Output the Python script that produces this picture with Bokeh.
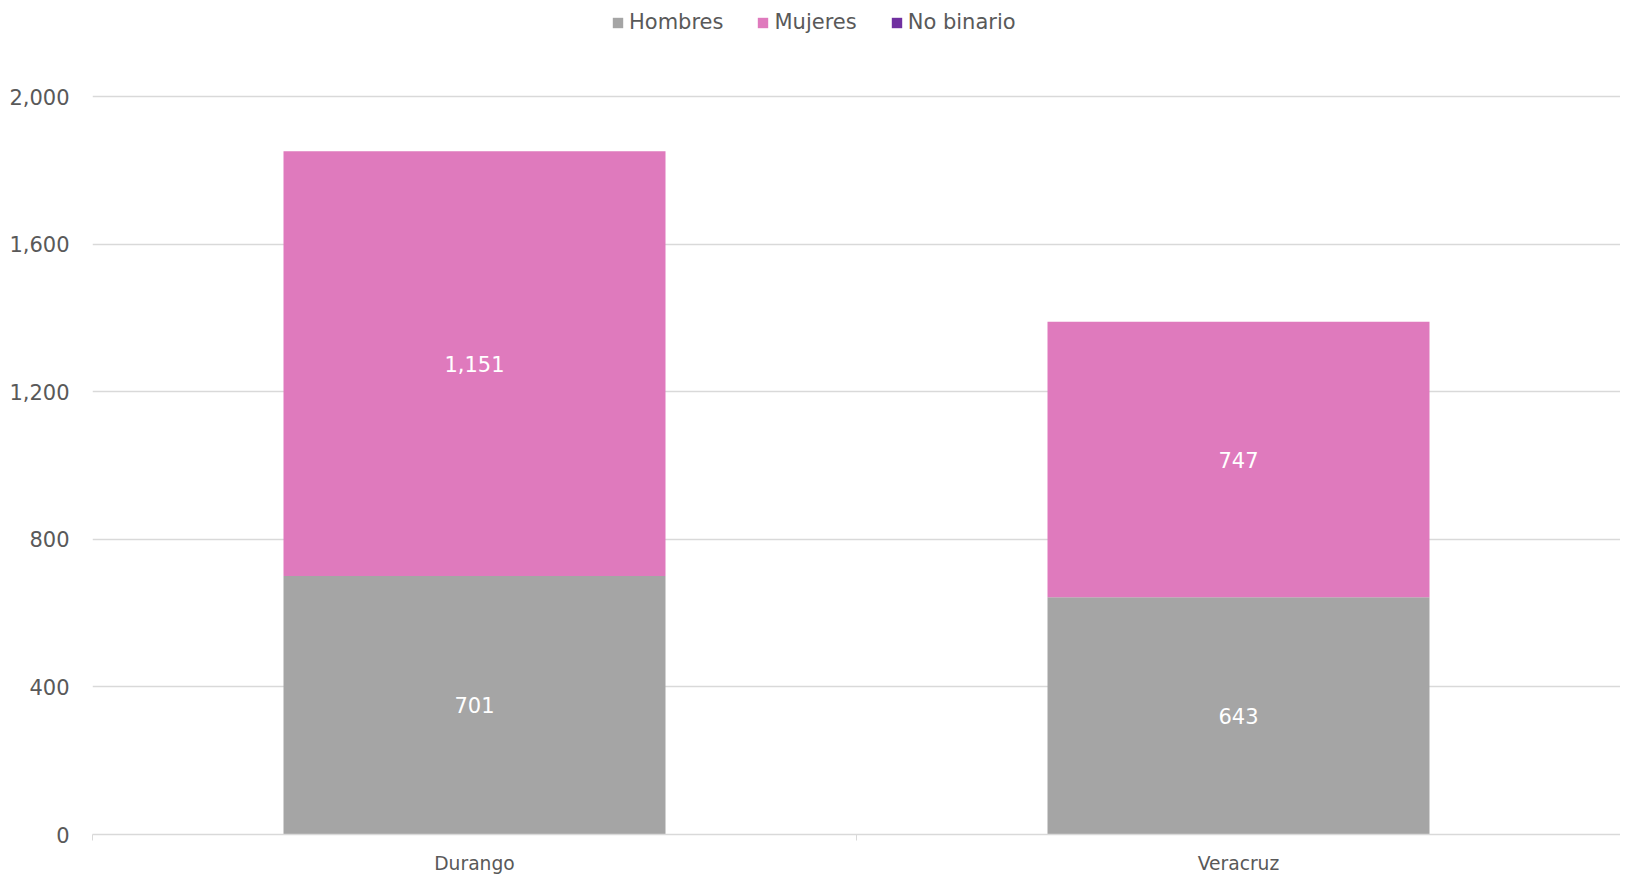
from bokeh.plotting import figure
from bokeh.models import (Range1d, FixedTicker, NumeralTickFormatter, Legend, LegendItem,
                          ColumnDataSource)
from bokeh.core.properties import value
from bokeh.embed import file_html
from bokeh.resources import INLINE
import numpy as np

categories = ["Durango", "Veracruz"]
hombres = [701, 643]
mujeres = [1151, 747]
no_binario = [0, 0]
series = ["Hombres", "Mujeres", "No binario"]
colors = ["#A5A5A5", "#DF7ABD", "#7030A0"]
y_ticks = [0, 400, 800, 1200, 1600, 2000]

FONT = "DejaVu Sans"
TXT = "#595959"

xpos = np.arange(len(categories)) + 0.5
src = ColumnDataSource(dict(x=xpos, Hombres=hombres, Mujeres=mujeres,
                            NoBin=no_binario))

p = figure(width=1620, height=876, output_backend="svg", toolbar_location=None,
           x_range=Range1d(0, len(categories)), y_range=Range1d(0, 2261),
           min_border_left=92, min_border_right=0, min_border_top=0,
           min_border_bottom=35)
p.outline_line_color = None
p.background_fill_color = "white"

rs = p.vbar_stack(["Hombres", "Mujeres", "NoBin"], x="x", width=0.5, source=src,
                  color=colors, line_alpha=0)

# in-bar labels
h = np.array(hombres); m = np.array(mujeres)
p.text(x=xpos, y=h / 2, text=[f"{v:,}" for v in hombres], text_color="white",
       text_align="center", text_baseline="middle", text_font=value(FONT),
       text_font_size="21px")
p.text(x=xpos, y=h + m / 2, text=[f"{v:,}" for v in mujeres], text_color="white",
       text_align="center", text_baseline="middle", text_font=value(FONT),
       text_font_size="21px")

# y axis
p.yaxis.ticker = FixedTicker(ticks=y_ticks)
p.yaxis.formatter = NumeralTickFormatter(format="0,0")
p.yaxis.axis_line_color = None
p.yaxis.major_tick_line_color = None
p.yaxis.minor_tick_line_color = None
p.yaxis.major_tick_out = 0
p.yaxis.major_label_standoff = 23
p.yaxis.major_label_text_font = FONT
p.yaxis.major_label_text_font_size = "21px"
p.yaxis.major_label_text_color = TXT
p.ygrid.ticker = FixedTicker(ticks=y_ticks[1:])
p.ygrid.grid_line_color = "#D9D9D9"
p.ygrid.grid_line_width = 1.3

# x axis
p.xaxis.ticker = FixedTicker(ticks=list(xpos), minor_ticks=list(range(len(categories) + 1)))
p.xaxis.major_label_overrides = {float(x): c for x, c in zip(xpos, categories)}
p.xaxis.axis_line_color = "#D9D9D9"
p.xaxis.axis_line_width = 1.3
p.xaxis.major_tick_line_color = None
p.xaxis.major_tick_out = 0
p.xaxis.minor_tick_line_color = "#D9D9D9"
p.xaxis.minor_tick_out = 6
p.xaxis.minor_tick_in = 0
p.xaxis.major_label_standoff = 12
p.xaxis.major_label_text_font = FONT
p.xaxis.major_label_text_font_size = "18.7px"
p.xaxis.major_label_text_color = TXT
p.xgrid.grid_line_color = None

legend = Legend(items=[LegendItem(label=s, renderers=[r]) for s, r in zip(series, rs)],
                location=(519, 800), orientation="horizontal",
                border_line_color=None, background_fill_alpha=0,
                label_text_font=FONT, label_text_font_size="21px",
                label_text_color=TXT, glyph_width=13, glyph_height=13,
                label_standoff=5, spacing=33, padding=0, margin=0)
p.add_layout(legend, "center")

open("out.html", "w").write(file_html(p, INLINE))
